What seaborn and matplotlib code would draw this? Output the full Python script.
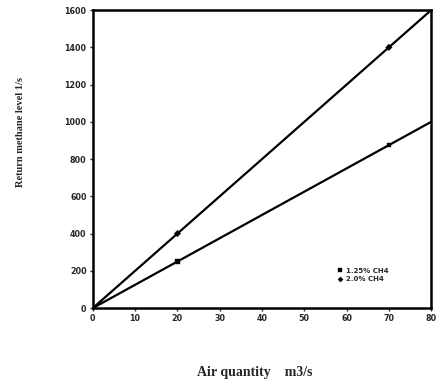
import matplotlib
matplotlib.use("Agg")
import matplotlib.pyplot as plt
import seaborn as sns
import pandas as pd

air = [0, 20, 70, 80]
ch4_125 = [0, 250, 875, 1000]
ch4_20 = [0, 400, 1400, 1600]
marker_air = [20, 70]
marker_125 = [250, 875]
marker_20 = [400, 1400]
series_names = ["1.25% CH4", "2.0% CH4"]
xticks = [0, 10, 20, 30, 40, 50, 60, 70, 80]
yticks = [0, 200, 400, 600, 800, 1000, 1200, 1400, 1600]

sns.set_style("white")

lines = pd.DataFrame({
    "air": air * 2,
    "methane": ch4_125 + ch4_20,
    "series": [series_names[0]] * len(air) + [series_names[1]] * len(air),
})
pts = pd.DataFrame({
    "air": marker_air * 2,
    "methane": marker_125 + marker_20,
    "series": [series_names[0]] * len(marker_air) + [series_names[1]] * len(marker_air),
})

fig = plt.figure(figsize=(4.4, 3.88), dpi=100)
ax = fig.add_axes([0.211, 0.206, 0.769, 0.768])

pal = {series_names[0]: "black", series_names[1]: "black"}
sns.lineplot(data=lines, x="air", y="methane", hue="series", palette=pal,
             linewidth=1.6, legend=False, ax=ax)
sns.scatterplot(data=pts, x="air", y="methane", hue="series", style="series",
                markers={series_names[0]: "s", series_names[1]: "D"},
                palette=pal, s=11, edgecolor="black", ax=ax)

ax.set_xlim(0, 80)
ax.set_ylim(0, 1600)
ax.set_xticks(xticks)
ax.set_yticks(yticks)
ax.set_xticklabels([str(v) for v in xticks], fontsize=5.8, fontweight="bold")
ax.set_yticklabels([str(v) for v in yticks], fontsize=5.8, fontweight="bold")
ax.tick_params(axis="both", direction="out", length=2.5, width=1, pad=2,
               bottom=True, left=True)
for sp in ax.spines.values():
    sp.set_visible(True)
    sp.set_linewidth(1.8)
    sp.set_color("black")

ax.set_xlabel("")
ax.set_ylabel("")
fig.text(0.578, 0.041, "Air quantity    m3/s", ha="center", va="center",
         fontsize=10, fontweight="bold", family="Liberation Serif")
fig.text(0.047, 0.66, "Return methane level 1/s", ha="center", va="center",
         rotation=90, fontsize=7.5, fontweight="bold", family="Liberation Serif")

leg = ax.legend(loc="upper left", bbox_to_anchor=(0.71, 0.145), frameon=False,
                fontsize=5, handletextpad=0.3, labelspacing=0.35,
                markerscale=0.8, borderaxespad=0, handlelength=1.2)
for t in leg.get_texts():
    t.set_fontweight("bold")

fig.savefig("out.png", dpi=100)
